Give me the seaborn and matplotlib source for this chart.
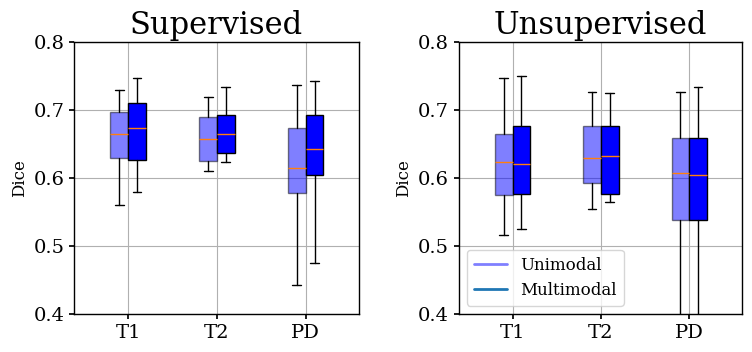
import numpy as np
import matplotlib
matplotlib.use("Agg")
import matplotlib.pyplot as plt
import seaborn as sns

# seaborn theme, then restore a plain matplotlib look
sns.set_theme(style="whitegrid")
plt.rcParams.update({
    "axes.edgecolor": "black",
    "axes.linewidth": 1.0,
    "grid.color": "#b0b0b0",
    "grid.linewidth": 0.8,
    "xtick.bottom": True,
    "ytick.left": True,
    "xtick.color": "black",
    "ytick.color": "black",
    "text.color": "black",
    "axes.labelcolor": "black",
    "xtick.major.size": 3.5,
    "ytick.major.size": 3.5,
    "legend.edgecolor": "0.8",
})
plt.rcParams["font.family"] = ["DejaVu Serif"]

# data: box summaries (whislo, q1, median, q3, whishi)
categories = ["T1", "T2", "PD"]
titles = ["Supervised", "Unsupervised"]

sup_uni = [[0.560, 0.629, 0.664, 0.697, 0.729],
           [0.610, 0.625, 0.657, 0.689, 0.719],
           [0.443, 0.578, 0.614, 0.673, 0.737]]
sup_multi = [[0.580, 0.626, 0.673, 0.710, 0.747],
             [0.623, 0.636, 0.664, 0.692, 0.733],
             [0.475, 0.604, 0.643, 0.692, 0.742]]
uns_uni = [[0.516, 0.575, 0.623, 0.664, 0.747],
           [0.555, 0.592, 0.630, 0.677, 0.726],
           [0.300, 0.538, 0.607, 0.658, 0.726]]
uns_multi = [[0.525, 0.577, 0.620, 0.677, 0.750],
             [0.565, 0.576, 0.632, 0.676, 0.725],
             [0.300, 0.538, 0.605, 0.658, 0.733]]

panels = [(sup_uni, sup_multi), (uns_uni, uns_multi)]


def to_stats(rows):
    return [dict(whislo=r[0], q1=r[1], med=r[2], q3=r[3], whishi=r[4], fliers=[])
            for r in rows]


fig = plt.figure(figsize=(7.52, 3.52), dpi=100)
ax1 = fig.add_axes([0.0984, 0.108, 0.379, 0.773])
ax2 = fig.add_axes([0.610, 0.108, 0.377, 0.773])

pos = np.arange(1, len(categories) + 1)
for ax, title, (uni, multi) in zip([ax1, ax2], titles, panels):
    b1 = ax.bxp(to_stats(uni), positions=pos - 0.1, widths=0.2, patch_artist=True,
                showfliers=False, medianprops=dict(color="#ff7f0e"))
    for box in b1["boxes"]:
        box.set_facecolor("blue")
        box.set_alpha(0.5)
    b2 = ax.bxp(to_stats(multi), positions=pos + 0.1, widths=0.2, patch_artist=True,
                showfliers=False, medianprops=dict(color="#ff7f0e"))
    for box in b2["boxes"]:
        box.set_facecolor("blue")
    ax.set_xticks(pos)
    ax.set_xticklabels(categories)
    ax.set_xlim(0.39, 3.6)
    ax.set_ylim(0.4, 0.8)
    ax.set_yticks([0.4, 0.5, 0.6, 0.7, 0.8])
    ax.tick_params(labelsize=14)
    ax.set_ylabel("Dice", fontsize=12)
    ax.set_title(title, fontsize=22)
    ax.grid(True)
    ax.set_axisbelow(True)

ax2.plot([], [], color="blue", alpha=0.5, lw=2, label="Unimodal")
ax2.plot([], [], color="#1f77b4", lw=2, label="Multimodal")
ax2.legend(loc="lower left", fontsize=12, frameon=True)

fig.savefig("out.png", dpi=100)
